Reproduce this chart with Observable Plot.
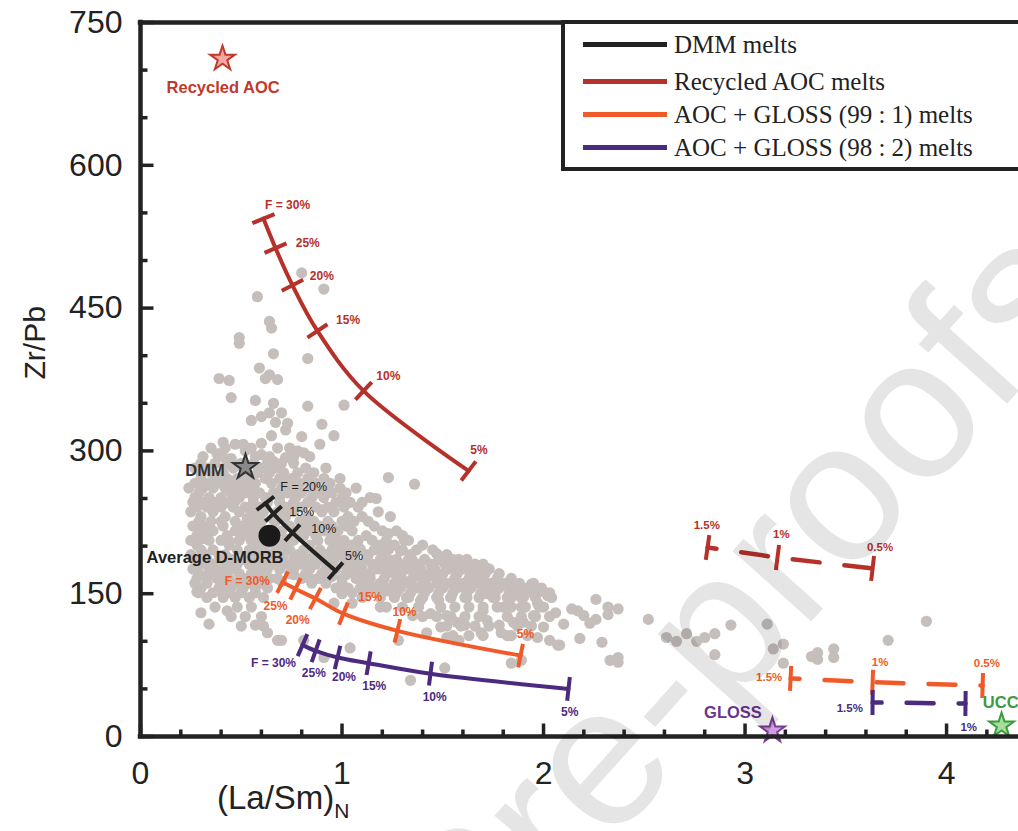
<!DOCTYPE html>
<html><head><meta charset="utf-8">
<script src="https://cdn.jsdelivr.net/npm/d3@7"></script>
<script src="https://cdn.jsdelivr.net/npm/@observablehq/plot@0.6"></script>
<style>
html,body{margin:0;padding:0;background:#fff;overflow:hidden;}
#wrap{position:relative;width:1018px;height:831px;overflow:hidden;font-family:"Liberation Sans",Arial,sans-serif;}
#chart svg{position:absolute;left:0;top:0;}
#legend{position:absolute;left:561px;top:20px;width:470px;height:143px;border:4px solid #222;border-right:none;background:#fff;box-sizing:content-box;}
.lrow{position:absolute;left:0;height:30px;}
.lline{position:absolute;left:18px;width:84px;height:5px;}
.ltext{position:absolute;left:109px;font-family:"Liberation Serif","Times New Roman",serif;font-size:25px;color:#222;white-space:nowrap;line-height:30px;}
#xtitle{position:absolute;left:217px;top:779px;font-size:33px;color:#222;white-space:nowrap;}
#xtitle sub{font-size:21px;vertical-align:-9px;}
#wm{position:absolute;left:-127px;top:1411px;transform-origin:0 0;transform:rotate(-48deg);font-size:200px;line-height:1;color:rgba(0,0,0,0.1);white-space:nowrap;pointer-events:none;font-family:"Liberation Sans",Arial,sans-serif;}
</style></head>
<body><div id="wrap"><div id="chart"></div><div id="legend"></div><div id="xtitle">(La/Sm)<sub>N</sub></div><div id="wm">Journal Pre-proofs</div></div>
<script>
// ---------- data ----------
const xTicksMajor = [0, 1, 2, 3, 4];
const xTicksMinor = [0.2,0.4,0.6,0.8,1.2,1.4,1.6,1.8,2.2,2.4,2.6,2.8,3.2,3.4,3.6,3.8,4.2];
const yTicksMajor = [0, 150, 300, 450, 600, 750];
const yTicksMinor = [50,100,200,250,350,400,500,550,650,700];

// Gray sample points (La/Sm)N, Zr/Pb — scattered ones
const grayX = [
0.58,0.91,0.80,0.64,0.65,0.49,0.49,0.66,0.83,0.59,0.39,0.44,0.62,0.64,0.68,0.45,0.57,0.66,0.83,1.01,
0.55,0.60,0.64,0.70,0.67,0.73,0.90,0.72,0.96,0.80,0.89,0.41,0.47,0.51,0.65,0.60,0.39,0.78,0.81,1.23,1.36,1.17,
0.38,0.45,0.52,0.60,0.66,0.72,0.48,
0.47,0.53,0.61,0.66,0.69,0.76,0.83,0.90,0.52,0.60,0.67,0.73,0.79,0.86,0.94,0.97,1.03,1.09,0.44,0.40,
0.35,0.31,0.33,0.39,0.44,0.64,0.70,0.76,0.84,0.95,1.02,1.10,1.17,1.24,1.30,1.37,1.44,1.55,1.62,1.68,
1.72,1.80,1.86,1.94,2.02,2.06,2.10,1.00,0.96,1.05,
1.23,1.31,1.29,1.35,1.47,1.50,1.58,1.57,1.64,1.47,1.40,1.34,1.42,1.52,1.60,1.54,1.62,1.48,1.39,1.32,
1.75,1.86,1.84,1.90,1.95,1.76,1.80,1.89,1.97,2.00,1.70,1.72,1.78,1.79,1.69,1.61,1.57,1.52,1.44,1.35,
1.49,1.42,1.52,1.28,1.58,1.95,2.00,1.97,2.03,2.07,1.90,1.85,1.82,1.19,1.23,1.26,
0.36,0.41,0.43,0.57,0.63,0.68,0.70,0.81,0.91,1.04,1.34,1.51,1.84,1.89,0.28,0.30,0.34,
2.14,2.17,2.20,2.26,2.32,2.37,2.32,2.26,2.23,2.52,2.18,2.29,2.33,2.37,2.37,2.08,
2.61,2.66,2.71,2.76,2.80,2.85,2.93,2.85,3.11,3.14,3.19,3.19,3.33,3.36,3.36,3.44,3.44,3.71,3.90
];
const grayY = [
462,470,487,436,429,419,413,402,397,387,376,374,376,380,375,356,353,350,347,348,
332,336,340,340,330,329,328,322,316,315,307,309,307,307,316,308,297,300,298,272,265,250,
297,292,300,296,289,293,285,
247,229,241,228,251,246,228,238,188,207,213,207,190,186,180,208,190,197,205,226,
245,208,168,190,166,186,163,170,166,168,170,166,178,185,165,178,170,180,176,168,
150,160,150,160,148,130,118,150,140,140,
213,206,195,185,192,187,186,171,166,171,167,161,157,161,157,146,146,143,143,146,
157,157,146,146,150,146,136,136,140,136,132,122,117,109,109,117,120,127,129,127,
115,109,104,101,101,127,115,104,101,96,120,120,106,136,153,171,
175,150,132,117,109,101,101,101,83,93,59,72,77,80,152,130,118,
134,132,127,144,136,134,128,123,119,123,103,99,80,83,78,96,
104,100,108,100,104,108,117,86,118,92,97,77,84,88,81,92,83,101,121
];
// Dense main cloud, read row by row: Zr/Pb level and the (La/Sm)N values seen along it
const cloudRowY = [303,294,287,282,277,271,266,261,256,251,246,241,236,231,226,221,216,211,206,201,196,191,186,181,176,171,166,161,156,151,146,136,126,116,106];
const cloudRowX = [
[0.35,0.42,0.55,0.68,0.74],
[0.31,0.41,0.57,0.64,0.76,0.84],
[0.30,0.37,0.43,0.50,0.56,0.63,0.70,0.76],
[0.27,0.34,0.46,0.60,0.67,0.82,0.92],
[0.30,0.35,0.41,0.52,0.58,0.64,0.71,0.78,0.86],
[0.30,0.37,0.43,0.48,0.55,0.62,0.69,0.75,0.83,0.91,0.99],
[0.27,0.33,0.39,0.45,0.51,0.57,0.65,0.72,0.79,0.87,0.94],
[0.24,0.31,0.36,0.42,0.48,0.55,0.70,0.76,0.84,0.92,0.99,1.07],
[0.29,0.45,0.52,0.59,0.66,0.73,0.80,0.88,0.95,1.02],
[0.27,0.34,0.40,0.49,0.56,0.62,0.77,0.85,0.91,1.00,1.14],
[0.26,0.31,0.37,0.43,0.56,0.63,0.69,0.83,0.97,1.04,1.10],
[0.28,0.33,0.40,0.46,0.52,0.59,0.72,0.80,0.87,0.93,1.01,1.08],
[0.25,0.36,0.49,0.55,0.61,0.68,0.76,0.90,0.96,1.18],
[0.30,0.42,0.58,0.72,0.83,1.03,1.10,1.24],
[0.29,0.35,0.47,0.54,0.60,0.67,0.79,0.86,0.93,1.00,1.06,1.13],
[0.26,0.32,0.41,0.50,0.56,0.74,0.82,0.89,0.95,1.02,1.16],
[0.30,0.36,0.47,0.53,0.59,0.70,0.78,0.85,0.91,0.98,1.05,1.20,1.27],
[0.28,0.33,0.43,0.51,0.57,0.81,0.87,0.95,1.12,1.30],
[0.25,0.34,0.40,0.49,0.55,0.65,0.72,0.76,0.88,0.94,1.01,1.08,1.15,1.22,1.33],
[0.28,0.44,0.58,0.62,0.70,0.84,0.98,1.05,1.19,1.26,1.40],
[0.30,0.36,0.48,0.54,0.60,0.67,0.74,0.81,0.89,0.95,1.02,1.09,1.16,1.23,1.30,1.37,1.45],
[0.25,0.32,0.42,0.57,0.64,0.71,0.78,0.86,0.92,0.99,1.06,1.13,1.20,1.34,1.52],
[0.27,0.33,0.45,0.51,0.57,0.63,0.69,0.76,0.83,0.90,0.96,1.04,1.12,1.19,1.27,1.33,1.41,1.48,1.55,1.62],
[0.30,0.36,0.42,0.48,0.54,0.60,0.66,0.73,0.80,0.87,0.94,1.01,1.08,1.15,1.22,1.29,1.37,1.44,1.51,1.58,1.66,1.70],
[0.26,0.34,0.39,0.45,0.57,0.63,0.69,0.76,0.84,0.92,0.97,1.04,1.10,1.18,1.25,1.32,1.39,1.46,1.53,1.60,1.67,1.73],
[0.29,0.35,0.42,0.49,0.55,0.61,0.74,0.82,0.90,0.95,1.02,1.07,1.14,1.22,1.29,1.36,1.43,1.50,1.57,1.64,1.71,1.78],
[0.28,0.38,0.51,0.58,0.64,0.68,0.80,0.88,0.93,1.00,1.07,1.14,1.21,1.28,1.35,1.42,1.49,1.56,1.63,1.70,1.77,1.84],
[0.27,0.33,0.42,0.48,0.54,0.60,0.85,0.92,1.00,1.12,1.19,1.26,1.33,1.40,1.47,1.54,1.60,1.67,1.74,1.81,1.88,1.95],
[0.30,0.39,0.45,0.51,0.57,0.63,0.97,1.03,1.09,1.16,1.22,1.29,1.37,1.43,1.50,1.57,1.64,1.71,1.78,1.85,1.92,1.99],
[0.29,0.36,0.44,0.50,0.57,1.05,1.13,1.20,1.27,1.34,1.41,1.48,1.55,1.62,1.69,1.76,1.83,1.90,1.97,2.03],
[0.33,0.41,0.47,0.54,0.61,1.10,1.19,1.26,1.33,1.40,1.47,1.54,1.61,1.68,1.75,1.82,1.89,1.96,2.04],
[0.37,0.48,0.55,1.22,1.30,1.38,1.49,1.56,1.63,1.70,1.77,1.84,1.91,1.98],
[0.45,0.52,0.60,1.40,1.47,1.54,1.61,1.68,1.82,1.89,1.96,2.03],
[0.50,0.61,1.52,1.59,1.66,1.73,1.87,1.94],
[1.55,1.63,1.70,1.84,1.92]
];

// Melting model curves (F = degree of melting)
const dmmX = [0.620, 0.660, 0.754, 0.968];
const dmmY = [245, 234, 214, 174];
const dmmLab = ["F = 20%", "15%", "10%", "5%"];
const dmmLabX = [0.81, 0.80, 0.91, 1.06];
const dmmLabY = [262, 236, 218, 190];

const aocX = [0.610, 0.670, 0.754, 0.878, 1.107, 1.628];
const aocY = [544, 513, 474, 426, 363, 279];
const aocLab = ["F = 30%", "25%", "20%", "15%", "10%", "5%"];
const aocLabX = [0.73, 0.83, 0.90, 1.03, 1.23, 1.68];
const aocLabY = [558, 518, 484, 437, 379, 301];

const g1X = [0.705, 0.769, 0.868, 1.007, 1.275, 1.886];
const g1Y = [162, 155, 145, 129, 111, 85];
const g1Lab = ["F = 30%", "25%", "20%", "15%", "10%", "5%"];
const g1LabX = [0.53, 0.67, 0.78, 1.14, 1.31, 1.91];
const g1LabY = [163, 137, 122, 146, 131, 108];

const g2X = [0.804, 0.869, 0.978, 1.132, 1.439, 2.124];
const g2Y = [96, 90, 83, 77, 66, 50];
const g2Lab = ["F = 30%", "25%", "20%", "15%", "10%", "5%"];
const g2LabX = [0.66, 0.86, 1.01, 1.16, 1.46, 2.13];
const g2LabY = [77, 67, 62, 53, 41, 26];

// Low-degree (dashed) extensions
const aocLowX = [2.814, 3.161, 3.633];
const aocLowY = [198.5, 188, 176.5];
const aocLowLab = ["1.5%", "1%", "0.5%"];
const aocLowLabX = [2.81, 3.18, 3.67];
const aocLowLabY = [222, 212, 199];

const g1LowX = [3.226, 3.633, 4.179];
const g1LowY = [61, 57, 53.6];
const g1LowLab = ["1.5%", "1%", "0.5%"];
const g1LowLabX = [3.12, 3.67, 4.20];
const g1LowLabY = [62, 78, 77];

const g2LowX = [3.633, 4.094];
const g2LowY = [35.7, 34.7];
const g2LowLab = ["1.5%", "1%"];
const g2LowLabX = [3.52, 4.11];
const g2LowLabY = [30, 10];

// End-members
const starNames = ["Recycled AOC", "DMM", "GLOSS", "UCC"];
const starX = [0.407, 0.521, 3.136, 4.273];
const starY = [712, 283, 6.3, 11.5];
const starFill = ["#f6a8a2", "#8a8a8a", "#cf9ee0", "#a6dc9c"];
const starStroke = ["#c0392b", "#333333", "#7b3a96", "#3d9b3d"];
const starLabColor = ["#c0392b", "#333333", "#6a3590", "#3d9b3d"];
const starLabX = [0.41, 0.32, 2.94, 4.18];
const starLabY = [681, 279, 25, 36];
const starLabAnchor = ["middle", "middle", "middle", "start"];

const morbX = [0.640];
const morbY = [211];
const morbLabel = ["Average D-MORB"];
const morbLabX = [0.37];
const morbLabY = [188];

const legendLabels = ["DMM melts", "Recycled AOC melts", "AOC + GLOSS (99 : 1) melts", "AOC + GLOSS (98 : 2) melts"];
const legendColors = ["#222222", "#b5312a", "#f05a28", "#4b2a7f"];

// ---------- layout ----------
const W = 1018, H = 831, ML = 140, MR = 0, MT = 22, MB = 95;
const XMAX = 4.357;
const KX = (W - ML - MR) / XMAX;
const KY = (H - MT - MB) / 750;

const C = {dmm: legendColors[0], aoc: legendColors[1], g1: legendColors[2], g2: legendColors[3]};

function pts(xs, ys) { return xs.map((x, i) => ({x, y: ys[i]})); }
function labs(t, xs, ys) { return t.map((s, i) => ({t: s, x: xs[i], y: ys[i]})); }
function perpTicks(xs, ys, len) {
  return xs.map((x, i) => {
    const i0 = Math.max(0, i - 1), i1 = Math.min(xs.length - 1, i + 1);
    const dx = (xs[i1] - xs[i0]) * KX, dy = -(ys[i1] - ys[i0]) * KY;
    const l = Math.hypot(dx, dy);
    const ox = -dy / l * len / 2, oy = dx / l * len / 2;
    return {x1: x - ox / KX, y1: ys[i] + oy / KY, x2: x + ox / KX, y2: ys[i] - oy / KY};
  });
}

const gray = pts(grayX, grayY);
cloudRowY.forEach((y, r) => cloudRowX[r].forEach(x => gray.push({x, y})));

const curveMarks = [];
function addCurve(xs, ys, color, dashed, len) {
  curveMarks.push(Plot.line(pts(xs, ys), dashed
    ? {x: "x", y: "y", stroke: color, strokeWidth: 4.5, strokeDasharray: "27,25", strokeDashoffset: 18}
    : {x: "x", y: "y", stroke: color, strokeWidth: 4, curve: "catmull-rom"}));
  curveMarks.push(Plot.link(perpTicks(xs, ys, len), {x1: "x1", y1: "y1", x2: "x2", y2: "y2", stroke: color, strokeWidth: 4}));
}
addCurve(dmmX, dmmY, C.dmm, false, 22);
addCurve(aocX, aocY, C.aoc, false, 24);
addCurve(g1X, g1Y, C.g1, false, 24);
addCurve(g2X, g2Y, C.g2, false, 24);
addCurve(aocLowX, aocLowY, C.aoc, true, 25);
addCurve(g1LowX, g1LowY, C.g1, true, 25);
addCurve(g2LowX, g2LowY, C.g2, true, 25);

function labelMark(t, xs, ys, color, weight, size) {
  return Plot.text(labs(t, xs, ys), {x: "x", y: "y", text: "t", fill: color, fontWeight: weight, fontSize: size});
}
const starData = starNames.map((n, i) => ({n, x: starX[i], y: starY[i], f: starFill[i], s: starStroke[i],
  lx: starLabX[i], ly: starLabY[i], lc: starLabColor[i], a: starLabAnchor[i]}));

const axisColor = "#222";
const chart = Plot.plot({
  width: W, height: H,
  marginLeft: ML, marginRight: MR, marginTop: MT, marginBottom: MB,
  x: {domain: [0, XMAX], axis: null},
  y: {domain: [0, 750], axis: null},
  style: {background: "transparent", fontFamily: "'Liberation Sans', Arial, sans-serif", overflow: "visible"},
  marks: [
    Plot.dot(gray, {x: "x", y: "y", r: 5.6, fill: "#c5bebb"}),
    ...curveMarks,
    labelMark(dmmLab, dmmLabX, dmmLabY, C.dmm, "normal", 12.5),
    labelMark(aocLab, aocLabX, aocLabY, C.aoc, "bold", 12),
    labelMark(g1Lab, g1LabX, g1LabY, C.g1, "bold", 12),
    labelMark(g2Lab, g2LabX, g2LabY, C.g2, "bold", 12),
    labelMark(aocLowLab, aocLowLabX, aocLowLabY, C.aoc, "bold", 11.5),
    labelMark(g1LowLab, g1LowLabX, g1LowLabY, C.g1, "bold", 11.5),
    labelMark(g2LowLab, g2LowLabX, g2LowLabY, C.g2, "bold", 11.5),
    Plot.dot(pts(morbX, morbY), {x: "x", y: "y", r: 11, fill: "#1a1a1a"}),
    Plot.text(labs(morbLabel, morbLabX, morbLabY), {x: "x", y: "y", text: "t", fill: "#222", fontWeight: "bold", fontSize: 16.5}),
    Plot.dot(starData, {x: "x", y: "y", symbol: "star", r: 7.8, fill: "f", stroke: "s", strokeWidth: 2}),
    Plot.text(starData.filter(d => d.a === "middle"), {x: "lx", y: "ly", text: "n", fill: "lc", fontWeight: "bold", fontSize: 16.5}),
    Plot.text(starData.filter(d => d.a === "start"), {x: "lx", y: "ly", text: "n", fill: "lc", textAnchor: "start", fontWeight: "bold", fontSize: 16.5}),
    // axes frame
    Plot.ruleX([0], {stroke: axisColor, strokeWidth: 4.5, strokeLinecap: "square"}),
    Plot.ruleY([0], {stroke: axisColor, strokeWidth: 4.5, strokeLinecap: "square"}),
    Plot.ruleY([750], {stroke: axisColor, strokeWidth: 4.5, strokeLinecap: "square"}),
    // inward ticks
    Plot.link(xTicksMajor, {x1: d => d, x2: d => d, y1: 0, y2: 13 / KY, stroke: axisColor, strokeWidth: 3.5}),
    Plot.link(xTicksMinor, {x1: d => d, x2: d => d, y1: 0, y2: 7 / KY, stroke: axisColor, strokeWidth: 3.5}),
    Plot.link(yTicksMajor, {y1: d => d, y2: d => d, x1: 0, x2: 13 / KX, stroke: axisColor, strokeWidth: 3.5}),
    Plot.link(yTicksMinor, {y1: d => d, y2: d => d, x1: 0, x2: 7 / KX, stroke: axisColor, strokeWidth: 3.5}),
    // tick labels
    Plot.text(xTicksMajor, {x: d => d, y: 0, text: d => String(d), dy: 37, fontSize: 32, fill: axisColor}),
    Plot.text(yTicksMajor, {x: 0, y: d => d, text: d => String(d), dx: -18, textAnchor: "end", fontSize: 32, fill: axisColor}),
    Plot.text(["Zr/Pb"], {frameAnchor: "left", text: d => d, rotate: -90, dx: -105, fontSize: 30, fill: axisColor})
  ]
});
document.getElementById("chart").appendChild(chart);

// legend
const lg = document.getElementById("legend");
const rowsY = [21, 58, 91, 124];
legendLabels.forEach((t, i) => {
  const row = document.createElement("div");
  row.className = "lrow";
  row.style.top = (rowsY[i] - 15) + "px";
  row.innerHTML = `<div class="lline" style="top:12px;background:${legendColors[i]}"></div><div class="ltext">${t}</div>`;
  lg.appendChild(row);
});
</script>
</body></html>
